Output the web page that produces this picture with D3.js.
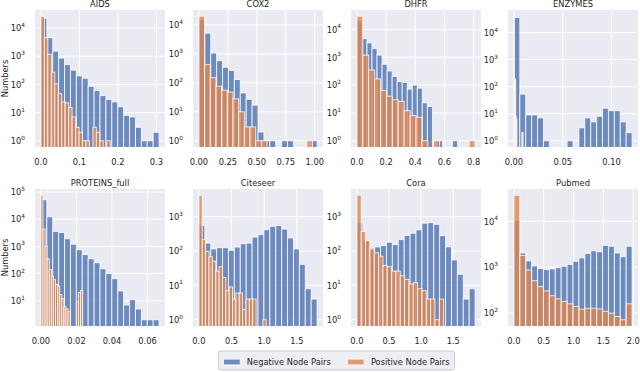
<!DOCTYPE html>
<html lang="en">
<head>
<meta charset="UTF-8">
<title>Node pair histograms</title>
<script src="https://cdn.jsdelivr.net/npm/d3@7"></script>
<style>
  * { margin: 0; padding: 0; }
  body { background: #fff; }
  text { font-family: "DejaVu Sans", sans-serif; fill: #262626; }
</style>
</head>
<body>
<script>
const W = 640, H = 372;

const panels = ["AIDS", "COX2", "DHFR", "ENZYMES", "PROTEINS_full", "Citeseer", "Cora", "Pubmed"];
const seriesNames = ["Negative Node Pairs", "Positive Node Pairs"];

// upper edge of the 20 equal bins (starting at 0) of each series
const negRange = [0.307, 1.02, 0.69, 0.121, 0.0665, 1.81, 1.84, 1.98];
const posRange = [0.18, 0.98, 0.81, 0.0125, 0.0235, 1.03, 1.35, 1.98];

// counts per bin
const negCounts = [
  [22000, 4500, 1500, 850, 500, 320, 200, 165, 85, 60, 40, 29, 24, 16, 8, 7, 3, 1, 1, 2],
  [15000, 5200, 1070, 580, 345, 270, 130, 45, 27, 17, 2, 1, 1, 0, 1, 1, 0, 0, 0, 1],
  [20000, 4700, 3300, 2050, 1200, 560, 325, 205, 135, 125, 72, 100, 78, 23, 17, 0, 1, 0, 0, 1],
  [36000, 53, 9, 9, 7, 1, 0, 0, 0, 1, 0, 3, 7, 5, 8, 16, 13, 13, 5, 2],
  [52000, 12300, 3550, 3250, 1900, 1200, 750, 500, 350, 250, 150, 100, 65, 23, 7, 11, 5, 2, 2, 2],
  [550, 170, 115, 125, 125, 105, 130, 163, 170, 255, 300, 415, 525, 550, 435, 240, 115, 41, 8, 4],
  [670, 200, 123, 132, 144, 180, 154, 215, 285, 330, 415, 645, 670, 600, 280, 132, 55, 21, 4, 8],
  [10500, 2050, 1380, 1070, 940, 890, 920, 980, 1050, 1150, 1350, 1600, 2000, 2280, 2180, 3000, 2870, 2050, 1700, 2870]
];
const posCounts = [
  [26000, 4500, 1170, 270, 105, 47, 24, 22, 15, 7, 3, 2, 1, 1, 0, 3, 2, 1, 0, 1],
  [20000, 425, 150, 77, 56, 48, 28, 10, 3, 3, 1, 1, 0, 0, 0, 0, 0, 0, 0, 1],
  [30000, 1200, 350, 167, 65, 40, 30, 26, 12, 8, 7, 1, 0, 1, 0, 0, 0, 0, 0, 1],
  [40000, 200, 180, 8, 6, 0, 0, 0, 0, 0, 0, 0, 0, 2, 2, 0, 0, 0, 0, 0],
  [76000, 4300, 1000, 350, 140, 80, 60, 40, 35, 17, 12, 6, 5, 4, 0, 0, 0, 9, 20, 24],
  [4200, 215, 98, 68, 51, 26, 35, 17, 7, 9, 4, 6, 6, 2, 4, 4, 4, 0, 0, 1],
  [4200, 370, 200, 115, 89, 71, 38, 35, 26, 26, 19, 15, 11, 12, 8, 7, 4, 4, 1, 4],
  [37000, 1820, 870, 510, 380, 305, 240, 205, 180, 160, 140, 122, 128, 128, 124, 110, 100, 85, 72, 160]
];

const xTicks = [
  [0, 0.1, 0.2, 0.3],
  [0, 0.25, 0.5, 0.75, 1],
  [0, 0.2, 0.4, 0.6, 0.8],
  [0, 0.05, 0.1],
  [0, 0.02, 0.04, 0.06],
  [0, 0.5, 1, 1.5],
  [0, 0.5, 1, 1.5],
  [0, 0.5, 1, 1.5, 2]
];
const xTickLabels = [
  ["0.0", "0.1", "0.2", "0.3"],
  ["0.00", "0.25", "0.50", "0.75", "1.00"],
  ["0.0", "0.2", "0.4", "0.6", "0.8"],
  ["0.00", "0.05", "0.10"],
  ["0.00", "0.02", "0.04", "0.06"],
  ["0.0", "0.5", "1.0", "1.5"],
  ["0.0", "0.5", "1.0", "1.5"],
  ["0.0", "0.5", "1.0", "1.5", "2.0"]
];

const colors = ["#4C72B0", "#DD8452"];
const colLeft = [35, 193, 351, 508];
const rowTop = [10, 189];
const plotW = 130, plotH = 137;
const fs = 8.3;

const svg = d3.select("body").append("svg").attr("width", W).attr("height", H);
const defs = svg.append("defs");

panels.forEach((name, p) => {
  const left = colLeft[p % 4], top = rowTop[Math.floor(p / 4)];
  const bottom = top + plotH;
  const m = Math.max(negRange[p], posRange[p]);
  const x = d3.scaleLinear().domain([-0.05 * m, 1.05 * m]).range([left, left + plotW]);

  const all = negCounts[p].concat(posCounts[p]).filter(c => c > 0);
  const lo = Math.log10(d3.min(all)), hi = Math.log10(d3.max(all));
  const pad = 0.05 * (hi - lo);
  const y = d3.scaleLog().domain([10 ** (lo - pad), 10 ** (hi + pad)]).range([bottom, top]);
  const decades = d3.range(Math.ceil(lo - pad), Math.floor(hi + pad) + 1);

  const g = svg.append("g");
  g.append("rect").attr("x", left).attr("y", top).attr("width", plotW).attr("height", plotH)
    .attr("fill", "#EAEAF2");

  g.selectAll(".gy").data(decades).join("line")
    .attr("x1", left).attr("x2", left + plotW)
    .attr("y1", e => y(10 ** e)).attr("y2", e => y(10 ** e))
    .attr("stroke", "#fff").attr("stroke-width", 1);
  g.selectAll(".gx").data(xTicks[p]).join("line")
    .attr("x1", d => x(d)).attr("x2", d => x(d))
    .attr("y1", top).attr("y2", bottom)
    .attr("stroke", "#fff").attr("stroke-width", 1);

  defs.append("clipPath").attr("id", "clip" + p).append("rect")
    .attr("x", left).attr("y", top).attr("width", plotW).attr("height", plotH);
  const bars = g.append("g").attr("clip-path", `url(#clip${p})`);

  [[negCounts[p], negRange[p]], [posCounts[p], posRange[p]]].forEach(([counts, r], s) => {
    const bw = r / counts.length;
    bars.append("g").selectAll("rect")
      .data(counts.map((c, i) => ({ c, i })).filter(d => d.c > 0))
      .join("rect")
      .attr("x", d => x(d.i * bw))
      .attr("width", d => x((d.i + 1) * bw) - x(d.i * bw))
      .attr("y", d => y(d.c))
      .attr("height", d => bottom - y(d.c) + 3)
      .attr("fill", colors[s]).attr("fill-opacity", 0.8)
      .attr("stroke", "#fff").attr("stroke-opacity", 0.8).attr("stroke-width", 1);
  });

  // y tick labels 10^n
  const yl = g.selectAll(".yl").data(decades).join("text")
    .attr("x", left - 10).attr("y", e => y(10 ** e) + 3.2)
    .attr("text-anchor", "end").attr("font-size", fs);
  yl.append("tspan").text("10");
  yl.append("tspan").attr("font-size", 5.8).attr("dy", -4.2).text(e => e);

  g.selectAll(".xl").data(xTicks[p]).join("text")
    .attr("x", d => x(d)).attr("y", bottom + 18)
    .attr("text-anchor", "middle").attr("font-size", fs)
    .text((d, i) => xTickLabels[p][i]);

  g.append("text").attr("x", left + plotW / 2).attr("y", top - 3.4)
    .attr("text-anchor", "middle").attr("font-size", fs).text(name);

  if (p % 4 === 0) {
    g.append("text")
      .attr("transform", `translate(7.5,${top + plotH / 2}) rotate(-90)`)
      .attr("text-anchor", "middle").attr("font-size", fs).text("Numbers");
  }
});

// legend
const legend = svg.append("g");
const box = legend.append("rect");
const handleW = 16.7, handleH = 5.8, textPad = 6.7, colSpace = 16.7, legY = 362;
let cursor = 0;
seriesNames.forEach((label, s) => {
  legend.append("rect")
    .attr("x", cursor).attr("y", legY - handleH / 2).attr("width", handleW).attr("height", handleH)
    .attr("fill", colors[s]).attr("fill-opacity", 0.8)
    .attr("stroke", "#fff").attr("stroke-opacity", 0.8).attr("stroke-width", 1);
  const t = legend.append("text")
    .attr("x", cursor + handleW + textPad).attr("y", legY + 3)
    .attr("font-size", fs).text(label);
  cursor += handleW + textPad + t.node().getComputedTextLength() + colSpace;
});
const total = cursor - colSpace;
const bpad = 5;
box.attr("x", -bpad).attr("y", 351).attr("width", total + 2 * bpad).attr("height", 19)
  .attr("rx", 2.5).attr("fill", "#EAEAF2").attr("fill-opacity", 0.8)
  .attr("stroke", "#ccc").attr("stroke-width", 1);
legend.attr("transform", `translate(${336.5 - total / 2},0)`);
</script>
</body>
</html>
